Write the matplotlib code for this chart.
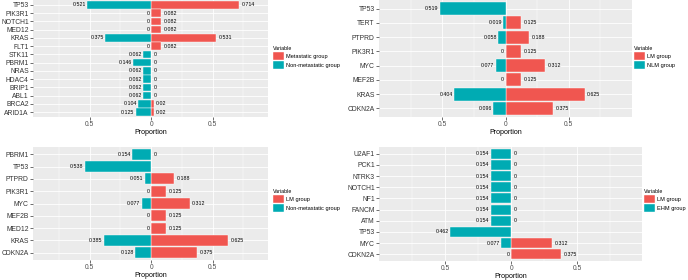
import matplotlib.pyplot as plt
from matplotlib.patches import Patch

plt.rcParams['font.family'] = ['Liberation Sans', 'DejaVu Sans']

# Panel A: metastatic vs non-metastatic
genes_a = ['TP53', 'PIK3R1', 'NOTCH1', 'MED12', 'KRAS', 'FLT1', 'STK11', 'PBRM1',
           'NRAS', 'HDAC4', 'BRIP1', 'ABL1', 'BRCA2', 'ARID1A']
pos_a = [0.714, 0.082, 0.082, 0.082, 0.531, 0.082, 0, 0, 0, 0, 0, 0, 0.02, 0.02]
neg_a = [0.521, 0, 0, 0, 0.375, 0, 0.062, 0.146, 0.062, 0.062, 0.062, 0.062, 0.104, 0.125]
leg_a = ['Metastatic group', 'Non-metastatic group']

# Panel B: LM vs NLM
genes_b = ['TP53', 'TERT', 'PTPRD', 'PIK3R1', 'MYC', 'MEF2B', 'KRAS', 'CDKN2A']
pos_b = [None, 0.125, 0.188, 0.125, 0.312, 0.125, 0.625, 0.375]
neg_b = [0.519, 0.019, 0.058, 0, 0.077, 0, 0.404, 0.096]
leg_b = ['LM group', 'NLM group']

# Panel C: LM vs non-metastatic
genes_c = ['PBRM1', 'TP53', 'PTPRD', 'PIK3R1', 'MYC', 'MEF2B', 'MED12', 'KRAS', 'CDKN2A']
pos_c = [0, None, 0.188, 0.125, 0.312, 0.125, 0.125, 0.625, 0.375]
neg_c = [0.154, 0.538, 0.051, 0, 0.077, 0, 0, 0.385, 0.128]
leg_c = ['LM group', 'Non-metastatic group']

# Panel D: LM vs EHM
genes_d = ['U2AF1', 'PCK1', 'NTRK3', 'NOTCH1', 'NF1', 'FANCM', 'ATM', 'TP53', 'MYC', 'CDKN2A']
pos_d = [0, 0, 0, 0, 0, 0, 0, None, 0.312, 0.375]
neg_d = [0.154, 0.154, 0.154, 0.154, 0.154, 0.154, 0.154, 0.462, 0.077, 0]
leg_d = ['LM group', 'EHM group']

RED = '#F05650'
TEAL = '#00ABB3'
W, H = 688, 280

fig = plt.figure(figsize=(W / 100, H / 100), dpi=100)


def panel(box, genes, pos, neg, labels, xlim, leg_xy):
    x0, x1, top, bot = box
    ax = fig.add_axes([x0 / W, 1 - bot / H, (x1 - x0) / W, (bot - top) / H])
    ax.set_facecolor('#EBEBEB')
    n = len(genes)
    ys = [n - 1 - i for i in range(n)]
    for y, p, q in zip(ys, pos, neg):
        if p is not None:
            ax.barh(y, p, height=0.9, color=RED, edgecolor='white', linewidth=0.3, zorder=3)
            ax.text(p + 0.02, y, f'{p:g}', ha='left', va='center', fontsize=3.8, zorder=4)
        ax.barh(y, -q, height=0.9, color=TEAL, edgecolor='white', linewidth=0.3, zorder=3)
        ax.text(-q - 0.01, y, f'{q:g}', ha='right', va='center', fontsize=3.8, zorder=4)
    ax.set_xlim(*xlim)
    ax.set_ylim(-0.6, n - 0.4)
    ax.set_yticks(ys)
    ax.set_yticklabels(genes, fontsize=4.9, color='#333333')
    ax.set_xticks([-0.5, 0, 0.5])
    ax.set_xticklabels(['0.5', '0', '0.5'], fontsize=4.8, color='#4D4D4D')
    ax.set_xticks([-0.75, -0.25, 0.25, 0.75], minor=True)
    ax.tick_params(axis='both', which='major', length=2, width=0.5, color='#333333', pad=1)
    ax.tick_params(axis='x', which='minor', length=0)
    ax.grid(True, which='major', color='white', linewidth=0.6, zorder=0)
    ax.grid(True, which='minor', axis='x', color='white', linewidth=0.3, zorder=0)
    ax.set_axisbelow(True)
    for s in ax.spines.values():
        s.set_visible(False)
    ax.set_xlabel('Proportion', fontsize=5.1, labelpad=0.5)
    handles = [Patch(facecolor=RED, edgecolor='white', linewidth=0.3),
               Patch(facecolor=TEAL, edgecolor='white', linewidth=0.3)]
    lg = fig.legend(handles, labels, title='Variable', loc='upper left',
                    bbox_to_anchor=(leg_xy[0] / W, 1 - leg_xy[1] / H),
                    frameon=False, fontsize=4.1, title_fontsize=3.8,
                    handlelength=1.9, handleheight=1.9, handletextpad=0.3,
                    labelspacing=0.1, borderpad=0, borderaxespad=0)
    lg._legend_box.align = 'left'
    return ax


panel((33, 268, 0, 117), genes_a, pos_a, neg_a, leg_a, (-0.96, 0.95), (273, 46))
panel((379, 632, 0, 117), genes_b, pos_b, neg_b, leg_b, (-1.0, 1.0), (634, 46))
panel((33, 268, 147, 260), genes_c, pos_c, neg_c, leg_c, (-0.96, 0.95), (273, 189))
panel((379, 642, 147, 261), genes_d, pos_d, neg_d, leg_d, (-1.0, 0.99), (644, 189))

fig.savefig('out.png', dpi=100)
